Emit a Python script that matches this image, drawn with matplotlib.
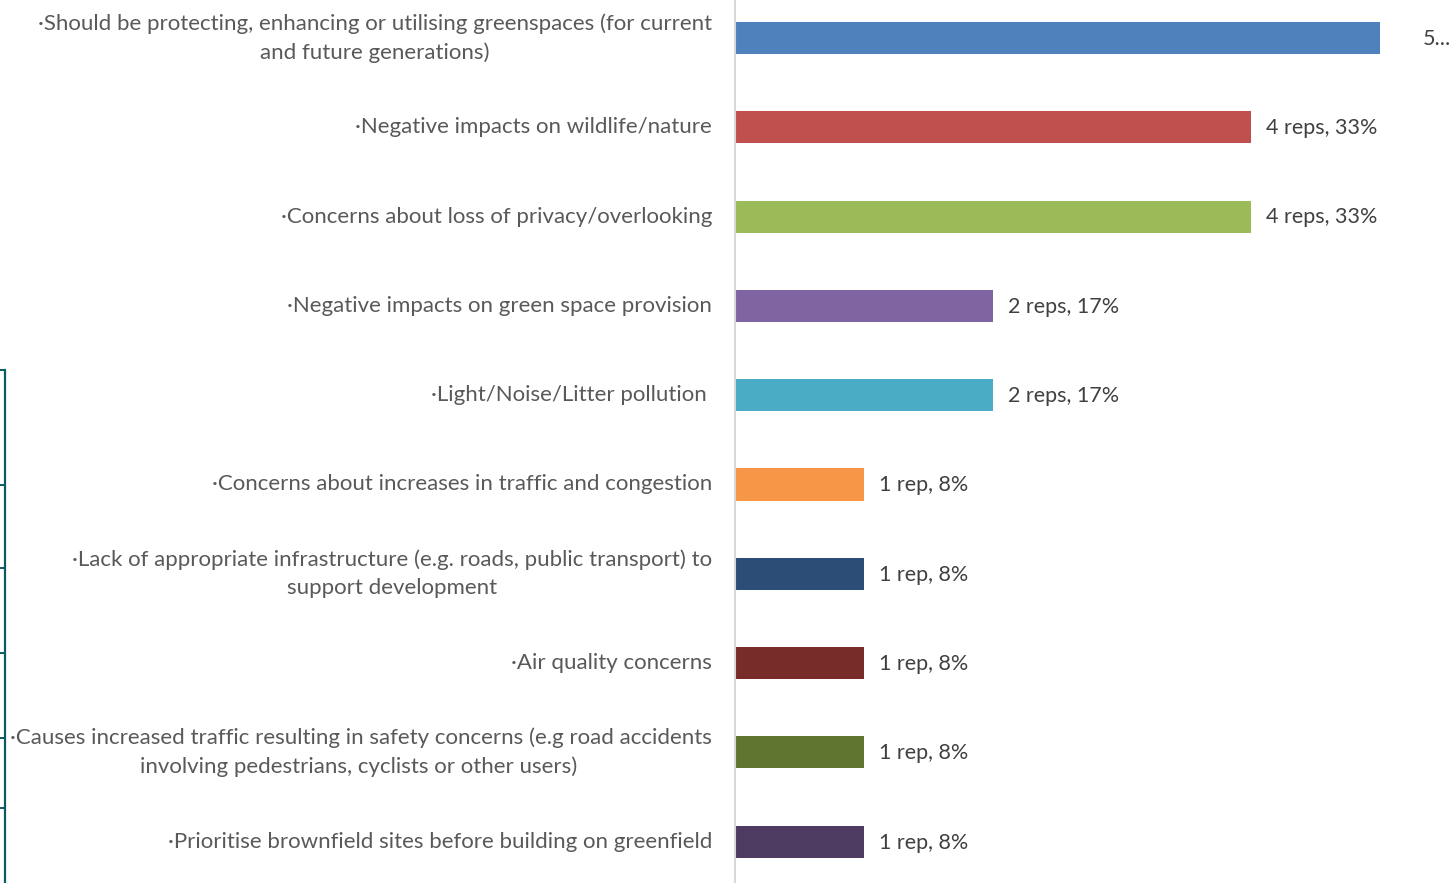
import matplotlib.pyplot as plt
from matplotlib.lines import Line2D

categories = [
    "\u00b7Should be protecting, enhancing or utilising greenspaces (for current\nand future generations)",
    "\u00b7Negative impacts on wildlife/nature",
    "\u00b7Concerns about loss of privacy/overlooking",
    "\u00b7Negative impacts on green space provision",
    "\u00b7Light/Noise/Litter pollution ",
    "\u00b7Concerns about increases in traffic and congestion",
    "\u00b7Lack of appropriate infrastructure (e.g. roads, public transport) to\nsupport development",
    "\u00b7Air quality concerns",
    "\u00b7Causes increased traffic resulting in safety concerns (e.g road accidents\ninvolving pedestrians, cyclists or other users) ",
    "\u00b7Prioritise brownfield sites before building on greenfield",
]
reps = [5, 4, 4, 2, 2, 1, 1, 1, 1, 1]
value_labels = ["5...", "4 reps, 33%", "4 reps, 33%", "2 reps, 17%", "2 reps, 17%",
                "1 rep, 8%", "1 rep, 8%", "1 rep, 8%", "1 rep, 8%", "1 rep, 8%"]
colors = ["#4F81BD", "#C0504D", "#9BBB59", "#8064A2", "#4BACC6",
          "#F79646", "#2C4D75", "#772C2A", "#5F7530", "#4D3B62"]

W, H = 1453, 883
fig = plt.figure(figsize=(W / 100, H / 100), dpi=100)
plt.rcParams['font.family'] = ['Lato', 'DejaVu Sans']

# axes from x=735px to right edge, full height
ax = fig.add_axes([735 / W, 0, 1 - 735 / W, 1])
px_per_rep = 129
ax.set_xlim(0, (W - 735) / px_per_rep)
step = 89.3
ax.set_ylim((H - 38) / step, -38 / step)

ypos = list(range(len(categories)))
ax.barh(ypos, reps, height=0.36, color=colors)

for i, (v, lab) in enumerate(zip(reps, value_labels)):
    off = 15 / px_per_rep
    if i == 0:
        off = 43 / px_per_rep
    ax.text(v + off, i + 0.01, lab, va='center', ha='left', fontsize=15.5, color='#404040', clip_on=False)

for i, c in enumerate(categories):
    ax.text(-23 / px_per_rep, i, c, va='center', ha='right', multialignment='center',
            fontsize=16, color='#595959', linespacing=1.53, clip_on=False)

for s in ['top', 'right', 'bottom']:
    ax.spines[s].set_visible(False)
ax.spines['left'].set_color('#D9D9D9')
ax.spines['left'].set_linewidth(1.5)
ax.set_xticks([])
ax.set_yticks([])
ax.patch.set_alpha(0)

# partial frame of a neighbouring element on the left edge
teal = '#0B5C62'
fig.add_artist(Line2D([4.5 / W, 4.5 / W], [0, 1 - 370 / H], color=teal, lw=1.6))
for ty in [370, 485, 568, 653, 738, 808]:
    fig.add_artist(Line2D([0, 4.5 / W], [1 - ty / H, 1 - ty / H], color=teal, lw=1.4))

fig.savefig('out.png', dpi=100)
